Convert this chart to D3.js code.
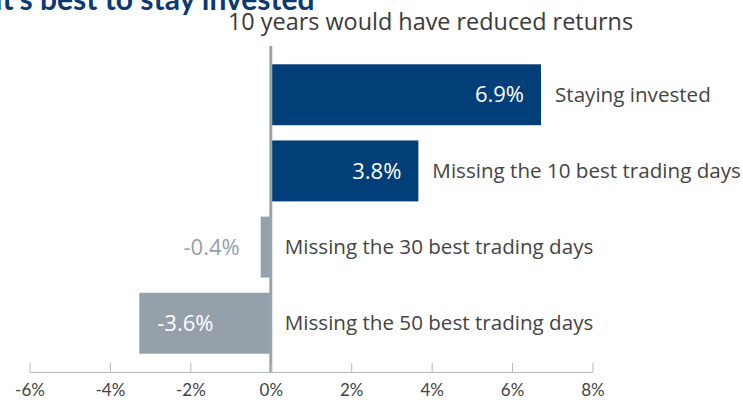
<!DOCTYPE html>
<html>
<head>
<meta charset="utf-8">
<script src="https://cdn.jsdelivr.net/npm/d3@7"></script>
<style>
  body { margin: 0; background: #fff; }
  svg { display: block; font-family: "Open Sans", Lato, sans-serif; }
</style>
</head>
<body>
<div id="chart"></div>
<script>
const categories = [
  "Staying invested",
  "Missing the 10 best trading days",
  "Missing the 30 best trading days",
  "Missing the 50 best trading days",
];
// bar lengths as drawn in the picture
const values = [6.72, 3.67, -0.25, -3.27];
const valueLabels = ["6.9%", "3.8%", "-0.4%", "-3.6%"];
const ticks = [-6, -4, -2, 0, 2, 4, 6, 8];

const width = 743;
const height = 402;
const navy = "#023f78";
const grey = "#95a0aa";

const x = d3.scaleLinear().domain([-6, 8]).range([29.5, 592.5]);
const y = d3
  .scaleBand()
  .domain(categories)
  .range([46, 372])
  .paddingInner(0.2)
  .paddingOuter(0.24);

const svg = d3
  .select("#chart")
  .append("svg")
  .attr("width", width)
  .attr("height", height)
  .attr("viewBox", [0, 0, width, height]);

svg
  .append("text")
  .attr("x", -6)
  .attr("y", 10)
  .attr("fill", "#0b3a73")
  .attr("font-family", "Lato, sans-serif")
  .attr("font-size", 30)
  .attr("font-weight", "bold")
  .text("It\u2019s best to stay invested");

svg
  .append("text")
  .attr("x", 228)
  .attr("y", 30)
  .attr("fill", "#3a3a3a")
  .attr("font-size", 23.4)
  .text("10 years would have reduced returns");

// bars
svg
  .append("g")
  .selectAll("rect")
  .data(values)
  .join("rect")
  .attr("x", (d) => Math.min(x(d), x(0)))
  .attr("y", (d, i) => y(categories[i]))
  .attr("width", (d) => Math.abs(x(d) - x(0)))
  .attr("height", y.bandwidth())
  .attr("fill", (d) => (d >= 0 ? navy : grey));

// zero line
svg
  .append("line")
  .attr("x1", x(0))
  .attr("x2", x(0))
  .attr("y1", 46)
  .attr("y2", 372)
  .attr("stroke", "#9aa4ae")
  .attr("stroke-width", 3);

// value labels
svg
  .append("g")
  .selectAll("text")
  .data(values)
  .join("text")
  .attr("y", (d, i) => y(categories[i]) + y.bandwidth() / 2)
  .attr("dy", "0.35em")
  .attr("font-size", 22)
  .each(function (d, i) {
    const t = d3.select(this).text(valueLabels[i]);
    const len = Math.abs(x(d) - x(0));
    if (d >= 0) {
      t.attr("x", x(d) - 17).attr("text-anchor", "end").attr("fill", "#fff");
    } else if (len > 60) {
      t.attr("x", x(d) + 18).attr("text-anchor", "start").attr("fill", "#fff");
    } else {
      t.attr("x", x(d) - 21).attr("text-anchor", "end").attr("fill", grey);
    }
  });

// category labels
svg
  .append("g")
  .selectAll("text")
  .data(values)
  .join("text")
  .attr("x", (d) => Math.max(x(d), x(0)) + 14)
  .attr("y", (d, i) => y(categories[i]) + y.bandwidth() / 2)
  .attr("dy", "0.35em")
  .attr("font-size", 20.6)
  .attr("fill", "#444")
  .text((d, i) => categories[i]);

// x axis
const gX = svg
  .append("g")
  .attr("transform", "translate(0,372)")
  .call(
    d3
      .axisBottom(x)
      .tickValues(ticks)
      .tickFormat((d) => d + "%")
      .tickSize(0)
      .tickPadding(12)
  );
gX.select(".domain").attr("stroke", "#b4b9be");
gX.selectAll(".tick line")
  .attr("y2", -9)
  .attr("stroke", "#b4b9be");
gX.selectAll(".tick text")
  .attr("font-size", 17)
  .attr("font-family", "Lato, sans-serif")
  .attr("fill", "#444");
</script>
</body>
</html>
